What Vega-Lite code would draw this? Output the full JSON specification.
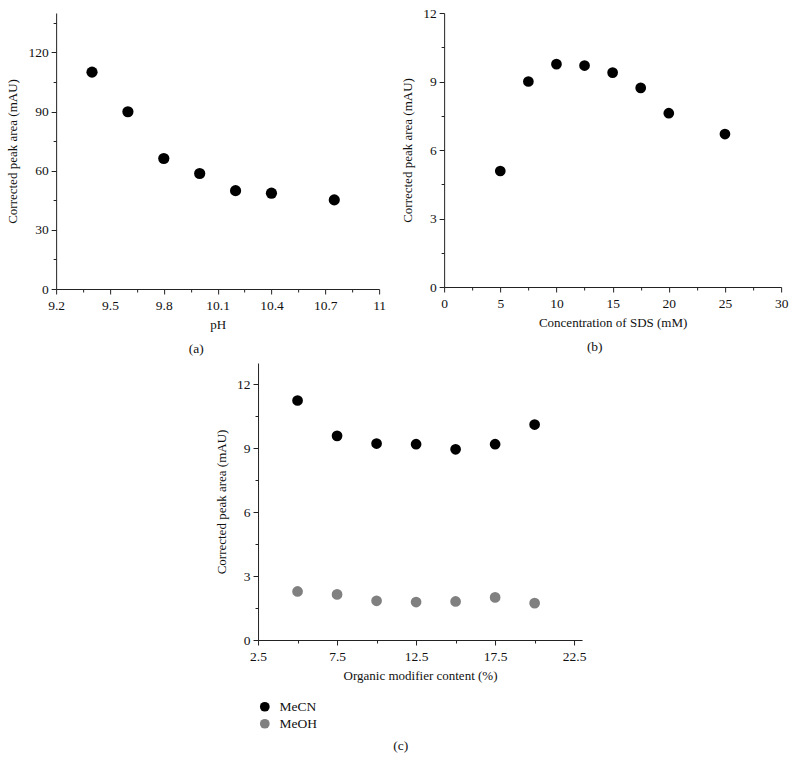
{
  "$schema": "https://vega.github.io/schema/vega-lite/v6.json",
  "padding": {"left": 6, "top": 6, "right": 5, "bottom": 5},
  "background": "white",
  "config": {
    "view": {"stroke": null},
    "font": "Liberation Serif",
    "axis": {
      "grid": false,
      "domainColor": "#222",
      "tickColor": "#222",
      "labelColor": "#111",
      "titleColor": "#111",
      "labelFont": "Liberation Serif",
      "titleFont": "Liberation Serif",
      "labelFontSize": 13.5,
      "titleFontSize": 13,
      "titleFontWeight": "normal",
      "labelPadding": 3,
      "labelFlush": false,
      "labelOverlap": false
    },
    "axisX": {"labelPadding": 4, "titlePadding": 7},
    "title": {"font": "Liberation Serif", "fontSize": 13.5, "fontWeight": "normal", "color": "#111", "orient": "bottom", "frame": "bounds", "anchor": "middle", "offset": 10}
  },
  "datasets": {
    "ph": [
      {"pH": 9.4, "area": 110.0},
      {"pH": 9.6, "area": 89.9},
      {"pH": 9.8, "area": 66.2},
      {"pH": 10.0, "area": 58.6},
      {"pH": 10.2, "area": 49.9},
      {"pH": 10.4, "area": 48.6},
      {"pH": 10.75, "area": 45.2}
    ],
    "sds": [
      {"sds": 5, "area": 5.08},
      {"sds": 7.5, "area": 9.0},
      {"sds": 10, "area": 9.76},
      {"sds": 12.5, "area": 9.7},
      {"sds": 15, "area": 9.39},
      {"sds": 17.5, "area": 8.72},
      {"sds": 20, "area": 7.61},
      {"sds": 25, "area": 6.7}
    ],
    "org": [
      {"content": 5, "area": 11.24, "solvent": "MeCN"},
      {"content": 7.5, "area": 9.58, "solvent": "MeCN"},
      {"content": 10, "area": 9.22, "solvent": "MeCN"},
      {"content": 12.5, "area": 9.19, "solvent": "MeCN"},
      {"content": 15, "area": 8.95, "solvent": "MeCN"},
      {"content": 17.5, "area": 9.19, "solvent": "MeCN"},
      {"content": 20, "area": 10.11, "solvent": "MeCN"},
      {"content": 5, "area": 2.28, "solvent": "MeOH"},
      {"content": 7.5, "area": 2.14, "solvent": "MeOH"},
      {"content": 10, "area": 1.84, "solvent": "MeOH"},
      {"content": 12.5, "area": 1.78, "solvent": "MeOH"},
      {"content": 15, "area": 1.81, "solvent": "MeOH"},
      {"content": 17.5, "area": 2.0, "solvent": "MeOH"},
      {"content": 20, "area": 1.73, "solvent": "MeOH"}
    ]
  },
  "center": true,
  "spacing": 8,
  "resolve": {"legend": {"color": "independent"}},
  "vconcat": [
    {
      "bounds": "flush",
      "spacing": 65,
      "hconcat": [
        {
          "width": 323,
          "height": 276,
          "title": {"text": "(a)"},
          "data": {"name": "ph"},
          "mark": {"type": "point", "filled": true, "opacity": 1, "size": 125, "color": "#000"},
          "encoding": {
            "x": {
              "field": "pH", "type": "quantitative",
              "scale": {"domain": [9.2, 11], "nice": false, "zero": false},
              "axis": {
                "title": "pH",
                "values": [9.2, 9.35, 9.5, 9.65, 9.8, 9.95, 10.1, 10.25, 10.4, 10.55, 10.7, 10.85, 11],
                "format": "~g",
                "labelExpr": "round(datum.value*100) % 30 == 20 ? datum.label : ''",
                "tickSize": {"condition": {"test": "round(datum.value*100) % 30 == 20", "value": 5}, "value": 3}
              }
            },
            "y": {
              "field": "area", "type": "quantitative",
              "scale": {"domain": [0, 140], "nice": false},
              "axis": {
                "title": "Corrected peak area (mAU)", "titlePadding": 8,
                "values": [0, 15, 30, 45, 60, 75, 90, 105, 120, 135],
                "labelExpr": "datum.value % 30 == 0 ? datum.label : ''",
                "tickSize": {"condition": {"test": "datum.value % 30 == 0", "value": 5}, "value": 3}
              }
            }
          }
        },
        {
          "width": 337,
          "height": 274,
          "title": {"text": "(b)"},
          "data": {"name": "sds"},
          "mark": {"type": "point", "filled": true, "opacity": 1, "size": 115, "color": "#000"},
          "encoding": {
            "x": {
              "field": "sds", "type": "quantitative",
              "scale": {"domain": [0, 30], "nice": false},
              "axis": {
                "title": "Concentration of SDS (mM)",
                "values": [0, 2.5, 5, 7.5, 10, 12.5, 15, 17.5, 20, 22.5, 25, 27.5, 30],
                "labelExpr": "datum.value % 5 == 0 ? datum.label : ''",
                "tickSize": {"condition": {"test": "datum.value % 5 == 0", "value": 5}, "value": 3}
              }
            },
            "y": {
              "field": "area", "type": "quantitative",
              "scale": {"domain": [0, 12], "nice": false},
              "axis": {
                "title": "Corrected peak area (mAU)", "titlePadding": 8,
                "values": [0, 1.5, 3, 4.5, 6, 7.5, 9, 10.5, 12],
                "labelExpr": "datum.value % 3 == 0 ? datum.label : ''",
                "tickSize": {"condition": {"test": "datum.value % 3 == 0", "value": 5}, "value": 3}
              }
            }
          }
        }
      ]
    },
    {
      "width": 324,
      "height": 277,
      "title": {"text": "(c)", "offset": 8},
      "data": {"name": "org"},
      "mark": {"type": "point", "filled": true, "opacity": 1, "size": 115},
      "encoding": {
        "x": {
          "field": "content", "type": "quantitative",
          "scale": {"domain": [2.5, 23], "nice": false, "zero": false},
          "axis": {
            "title": "Organic modifier content (%)",
            "values": [2.5, 5, 7.5, 10, 12.5, 15, 17.5, 20, 22.5],
            "labelExpr": "(datum.value - 2.5) % 5 == 0 ? format(datum.value, '.1f') : ''",
            "tickSize": {"condition": {"test": "(datum.value - 2.5) % 5 == 0", "value": 5}, "value": 3}
          }
        },
        "y": {
          "field": "area", "type": "quantitative",
          "scale": {"domain": [0, 13], "nice": false},
          "axis": {
            "title": "Corrected peak area (mAU)", "titlePadding": 8,
            "values": [0, 1.5, 3, 4.5, 6, 7.5, 9, 10.5, 12],
            "labelExpr": "datum.value % 3 == 0 ? datum.label : ''",
            "tickSize": {"condition": {"test": "datum.value % 3 == 0", "value": 5}, "value": 3}
          }
        },
        "color": {
          "field": "solvent", "type": "nominal",
          "scale": {"domain": ["MeCN", "MeOH"], "range": ["#000000", "#808080"]},
          "legend": {
            "orient": "none", "legendX": 0, "legendY": 337, "title": null,
            "symbolType": "circle", "symbolSize": 95, "symbolStrokeWidth": 0,
            "labelFont": "Liberation Serif", "labelFontSize": 13.5, "labelColor": "#111",
            "labelOffset": 8, "rowPadding": 2, "padding": 0
          }
        }
      }
    }
  ]
}
